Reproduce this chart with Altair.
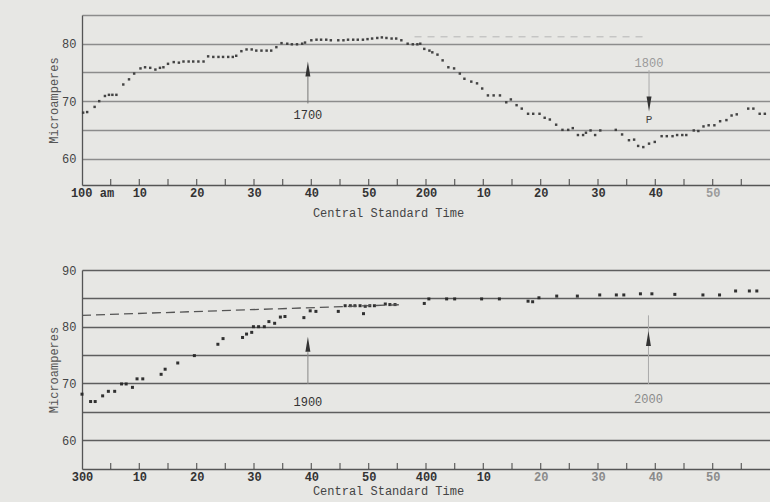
import altair as alt
import pandas as pd

# ---------------- data ----------------
# top panel: minutes after 1:00 (Central Standard Time), microamperes
top_min = [0.2, 0.9, 2.2, 3.0, 4.0, 4.7, 5.3, 6.0, 7.2, 8.2, 9.1,
           10.2, 11.0, 11.9, 12.8, 13.6, 14.2, 15.0, 16.0, 16.9, 17.7, 18.6, 19.4,
           20.3, 21.2, 22.0, 22.9, 23.8, 24.6, 25.5, 26.3, 26.9, 27.8, 28.7, 29.6,
           30.4, 31.3, 32.2, 33.0, 33.9, 34.8, 35.8, 36.6, 37.5, 38.4, 38.9,
           40.0, 40.9, 41.7, 42.6, 43.4, 44.7, 45.6, 46.4, 47.3, 48.1, 49.0, 49.8,
           50.6, 51.5, 52.3, 53.1, 54.0, 54.8, 55.7, 56.8, 57.7, 58.5, 59.0, 59.7,
           60.6, 61.1, 62.0, 62.9, 63.9, 64.9, 65.9, 66.7, 67.9, 68.9, 69.8,
           70.8, 71.8, 72.9, 74.0, 74.8, 75.8, 76.7, 77.8, 78.7, 79.8,
           80.7, 81.6, 82.7, 83.8, 84.8, 85.6, 86.5, 87.4, 87.9, 88.7, 89.5,
           90.4, 93.1, 94.2, 95.4, 96.3, 97.0, 97.9, 98.9, 99.9,
           101.1, 102.0, 103.0, 103.8, 104.7, 105.4, 106.7, 107.5, 108.4, 109.3,
           110.3, 111.3, 112.4, 113.3, 114.2, 116.2, 117.1, 118.2, 119.1]
top_val = [68.0, 68.1, 69.0, 70.0, 70.9, 71.1, 71.1, 71.1, 72.9, 73.8, 74.8,
           75.7, 75.9, 75.8, 75.5, 75.8, 75.9, 76.5, 76.8, 76.7, 76.9, 76.9, 76.9,
           76.9, 76.9, 77.8, 77.7, 77.7, 77.7, 77.7, 77.7, 77.9, 78.7, 79.0, 79.0,
           78.8, 78.8, 78.8, 78.8, 79.4, 80.1, 80.0, 79.9, 79.9, 80.0, 80.2,
           80.6, 80.7, 80.7, 80.7, 80.6, 80.6, 80.6, 80.7, 80.7, 80.7, 80.7, 80.8,
           80.9, 81.0, 81.1, 81.0, 80.9, 80.9, 80.6, 80.0, 79.9, 79.9, 80.0, 79.1,
           78.8, 78.5, 78.1, 77.1, 75.9, 75.7, 74.8, 73.9, 73.4, 73.1, 72.2,
           71.0, 71.0, 71.0, 69.8, 70.3, 69.3, 68.7, 67.8, 67.8, 67.8,
           67.1, 66.8, 65.9, 65.0, 65.0, 65.3, 64.1, 64.1, 64.5, 64.9, 64.1,
           64.9, 65.0, 64.2, 63.2, 63.3, 62.2, 62.0, 62.6, 62.9,
           63.9, 63.9, 63.9, 64.1, 64.1, 64.1, 64.9, 64.8, 65.6, 65.8,
           65.8, 66.5, 66.7, 67.5, 67.7, 68.7, 68.7, 67.8, 67.8]

# bottom panel: minutes after 3:00
bot_min = [0.0, 1.5, 2.3, 3.6, 4.6, 5.7, 6.9, 7.7, 8.8, 9.6, 10.6, 13.8, 14.5,
           16.7, 19.6, 23.7, 24.6, 28.0, 28.7, 29.6, 29.9, 30.8, 31.8, 32.6, 33.6,
           34.6, 35.4, 38.7, 39.8, 40.8, 44.7, 45.9, 46.8, 47.6, 48.5, 49.1, 49.4,
           50.2, 51.0, 52.9, 53.7, 54.6, 59.7, 60.5, 63.6, 65.0, 69.7, 72.8, 77.8,
           78.6, 79.7, 82.8, 86.4, 90.3, 93.2, 94.5, 97.4, 99.4, 103.4, 108.3,
           111.2, 114.0, 116.4, 117.7]
bot_val = [68.1, 66.8, 66.8, 67.8, 68.6, 68.6, 69.9, 69.9, 69.3, 70.8, 70.8, 71.6, 72.5,
           73.6, 74.9, 76.9, 77.9, 78.1, 78.7, 79.0, 80.0, 80.0, 80.0, 80.9, 80.6,
           81.7, 81.8, 81.6, 82.8, 82.7, 82.7, 83.7, 83.7, 83.7, 83.7, 82.3, 83.6,
           83.7, 83.7, 84.0, 83.9, 83.9, 84.1, 84.9, 84.9, 84.9, 84.9, 84.9, 84.5,
           84.4, 85.1, 85.4, 85.4, 85.6, 85.6, 85.6, 85.8, 85.8, 85.7, 85.6,
           85.6, 86.3, 86.3, 86.3]

# dashed trend line in the lower panel
dash_min = [0.0, 56.0]
dash_val = [82.0, 83.9]
# faint dashed trace in the upper panel
faint_min = [58.0, 98.0]
faint_val = [81.2, 81.2]

# axis tick positions (minutes) and label values
tick_min = [5, 10, 15, 20, 25, 30, 35, 40, 45, 50, 55, 60, 65, 70, 75, 80,
            85, 90, 95, 100, 105, 110, 115]
label_min = [0, 10, 20, 30, 40, 50, 60, 70, 80, 90, 100, 110]
top_grid = [60, 65, 70, 75, 80, 85]
bot_grid = [60, 65, 70, 75, 80, 85, 90]

# annotations (upper panel)
a1700_t = [39.4]; a1700_shaft = [69.6, 74.3]; a1700_head = [75.6]; a1700_lab = [67.6]
a1800_t = [98.9]; a1800_shaft = [75.4, 70.7]; a1800_head = [69.5]; a1800_lab = [76.6]; aP_lab = [66.7]
# annotations (lower panel)
a1900_t = [39.4]; a1900_shaft = [69.9, 75.5]; a1900_head = [76.9]; a1900_lab = [66.8]
a2000_t = [98.8]; a2000_shaft = [69.9, 82.0]; a2000_head = [77.9]; a2000_lab = [67.2]

# ---------------- styling ----------------
W = 688
H1 = 170
H2 = 199
FONT = "Liberation Mono"
UP = "M0,-1L0.33,1L-0.33,1Z"
DOWN = "M0,1L0.33,-1L-0.33,-1Z"


def panel(mins, vals, height, ydom, grid_vals, hour_a, hour_b, grid_color,
          pt_size, pt_color, title_y, label_color_expr, first_offset):
    df = pd.DataFrame({"t": mins, "v": vals})
    xs = alt.Scale(domain=[0, 120], nice=False, zero=False)
    ys = alt.Scale(domain=ydom, nice=False, zero=False)
    x_axis = alt.Axis(
        values=label_min, grid=False, ticks=False, tickSize=0,
        labelExpr=f"datum.value == 0 ? '{hour_a}' : datum.value == 60 ? '{hour_b}' : '' + (datum.value % 60)",
        labelFont=FONT, labelFontSize=12, labelFontWeight="bold", labelPadding=2,
        labelColor={"expr": label_color_expr},
        labelOffset={"expr": f"datum.value == 0 ? {first_offset} : 0"},
        labelOverlap=False, labelFlush=False,
        domainColor="#555", domainWidth=1.3,
        title="Central Standard Time", titleFont=FONT, titleFontSize=12,
        titleFontWeight="normal", titleColor="#444",
        titleX=306, titleY=title_y, titleAlign="center",
    )
    y_axis = alt.Axis(
        values=grid_vals, grid=True, gridColor=grid_color, gridWidth=1.3,
        ticks=False, tickSize=0, labelPadding=6,
        labelExpr="datum.value % 10 == 0 ? datum.label : ''",
        labelFont=FONT, labelFontSize=12, labelColor="#444",
        domainColor="#555", domainWidth=1.3,
        title="Microamperes", titleFont=FONT, titleFontSize=12,
        titleFontWeight="normal", titleColor="#555", titlePadding=1,
    )
    pts = alt.Chart(df).mark_square(size=pt_size, color=pt_color, opacity=0.95).encode(
        x=alt.X("t:Q", scale=xs, axis=x_axis),
        y=alt.Y("v:Q", scale=ys, axis=y_axis),
    )
    ticks = alt.Chart(pd.DataFrame({"t": tick_min})).mark_tick(
        color="#333", thickness=1.3, size=6, orient="vertical"
    ).encode(
        x=alt.X("t:Q", scale=xs, axis=x_axis),
        y=alt.value(height - 3),
    )
    return pts, ticks, xs, ys, x_axis, y_axis


top_pts, top_ticks, xs1, ys1, xa1, ya1 = panel(
    top_min, top_val, H1, [55.4, 85], top_grid, "100 am", "200",
    "#8c8c8c", 6, "#3a3a3a", 22, "datum.value > 105 ? '#9a9a9a' : '#333'", 10)
bot_pts, bot_ticks, xs2, ys2, xa2, ya2 = panel(
    bot_min, bot_val, H2, [54.9, 90], bot_grid, "300", "400",
    "#5e5e5e", 9, "#262626", 16, "datum.value > 75 ? '#8a8a8a' : '#333'", 0)


def enc(xs, ys, xa, ya):
    return dict(x=alt.X("t:Q", scale=xs, axis=xa), y=alt.Y("v:Q", scale=ys, axis=ya))


def line(mins, vals, xs, ys, xa, ya, color, dash, width=1.2):
    return alt.Chart(pd.DataFrame({"t": mins, "v": vals})).mark_line(
        color=color, strokeDash=dash, strokeWidth=width
    ).encode(**enc(xs, ys, xa, ya))


def shaft(t, vals, xs, ys, xa, ya, color):
    return alt.Chart(pd.DataFrame({"t": t, "v": [vals[0]], "v2": [vals[1]]})).mark_rule(
        color=color, strokeWidth=1
    ).encode(**enc(xs, ys, xa, ya), y2="v2:Q")


def head(t, v, xs, ys, xa, ya, shape, color, size=225):
    return alt.Chart(pd.DataFrame({"t": t, "v": v})).mark_point(
        shape=shape, filled=True, size=size, color=color, opacity=1
    ).encode(**enc(xs, ys, xa, ya))


def label(t, v, text, xs, ys, xa, ya, color, size=12):
    return alt.Chart(pd.DataFrame({"t": t, "v": v, "s": [text]})).mark_text(
        font=FONT, fontSize=size, color=color, baseline="middle", align="center"
    ).encode(**enc(xs, ys, xa, ya), text="s:N")


A1 = (xs1, ys1, xa1, ya1)
A2 = (xs2, ys2, xa2, ya2)

top = alt.layer(
    top_pts,
    line(faint_min, faint_val, *A1, "#b5b5b5", [7, 6], 1),
    top_ticks,
    shaft(a1700_t, a1700_shaft, *A1, "#777"),
    head(a1700_t, a1700_head, *A1, UP, "#333"),
    label(a1700_t, a1700_lab, "1700", *A1, "#333"),
    shaft(a1800_t, a1800_shaft, *A1, "#aaa"),
    head(a1800_t, a1800_head, *A1, DOWN, "#333"),
    label(a1800_t, a1800_lab, "1800", *A1, "#9a9a9a"),
    label(a1800_t, aP_lab, "P", *A1, "#444", 11),
).properties(width=W, height=H1)

bottom = alt.layer(
    bot_pts,
    line(dash_min, dash_val, *A2, "#555", [9, 5], 1.3),
    bot_ticks,
    shaft(a1900_t, a1900_shaft, *A2, "#888"),
    head(a1900_t, a1900_head, *A2, UP, "#333"),
    label(a1900_t, a1900_lab, "1900", *A2, "#333"),
    shaft(a2000_t, a2000_shaft, *A2, "#aaa"),
    head(a2000_t, a2000_head, *A2, UP, "#333"),
    label(a2000_t, a2000_lab, "2000", *A2, "#8a8a8a"),
).properties(width=W, height=H2)

chart = alt.vconcat(top, bottom, spacing=85, bounds="flush").resolve_scale(
    x="independent", y="independent"
).properties(
    background="#e7e7e4",
    padding={"left": 47, "top": 15, "right": 0, "bottom": 6},
).configure_view(stroke=None)

chart.save("out.html", embed_options={"renderer": "svg", "actions": False})
